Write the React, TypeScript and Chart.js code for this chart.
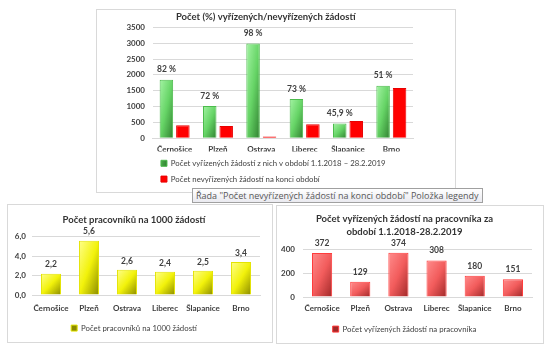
import React, { useEffect, useRef } from "react";
import { Chart, registerables } from "chart.js";
Chart.register(...registerables);

const categories = ["Černošice", "Plzeň", "Ostrava", "Liberec", "Šlapanice", "Brno"];

const topTitle = "Počet (%) vyřízených/nevyřízených žádostí";
const vyrizeneLabel = "Počet vyřízených žádostí z nich v období 1.1.2018 – 28.2.2019";
const nevyrizeneLabel = "Počet nevyřízených žádostí na konci období";
const vyrizene = [1850, 1020, 2990, 1240, 465, 1660];
const nevyrizene = [410, 390, 60, 440, 545, 1590];
const percentLabels = ["82 %", "72 %", "98 %", "73 %", "45,9 %", "51 %"];
const topTicks = [0, 500, 1000, 1500, 2000, 2500, 3000, 3500];

const leftTitle = "Počet pracovníků na 1000 žádostí";
const pracovnici = [2.2, 5.6, 2.6, 2.4, 2.5, 3.4];
const leftTicks = [0, 2, 4, 6];

const rightTitle = ["Počet vyřízených žádostí na pracovníka za", "období 1.1.2018-28.2.2019"];
const rightLabel = "Počet vyřízených žádostí na pracovníka";
const naPracovnika = [372, 129, 374, 308, 180, 151];
const rightTicks = [0, 200, 400];

const tooltipText = 'Řada "Počet nevyřízených žádostí na konci období" Položka legendy';

const FONT = "Lato, 'Open Sans', sans-serif";
const czNum = (v: number, d: number) => v.toFixed(d).replace(".", ",");

type Stop = [number, string];
const greenStops: Stop[] = [[0, "#a4f4a4"], [0.5, "#66d466"], [1, "#2f802f"]];
const yellowStops: Stop[] = [[0, "#ffff8c"], [0.5, "#f2f20a"], [1, "#8a8a00"]];
const redStops: Stop[] = [[0, "#ff8c8c"], [0.5, "#f25c5c"], [1, "#a02828"]];

function diagGradient(stops: Stop[], nDatasets: number, catPct: number, barPct: number) {
  return (c: any) => {
    const chart = c.chart;
    const xs = chart.scales && chart.scales.x;
    const ys = chart.scales && chart.scales.y;
    if (!xs || !ys || !chart.chartArea || c.type !== "data") return stops[1][1];
    const n = chart.data.labels.length;
    const cw = (xs.right - xs.left) / n;
    const cx = xs.getPixelForValue(c.dataIndex);
    const slot = (cw * catPct) / nDatasets;
    const center = cx - (cw * catPct) / 2 + slot * (c.datasetIndex + 0.5);
    const w = slot * barPct;
    const left = center - w / 2;
    const top = ys.getPixelForValue(c.raw as number);
    const base = ys.getPixelForValue(0);
    const h = Math.max(1, base - top);
    const k = (2 * w * h) / (h * h + w * w);
    const g = chart.ctx.createLinearGradient(left, top, left + k * h, top + k * w);
    stops.forEach(([o, col]) => g.addColorStop(o, col));
    return g;
  };
}

const valueLabelPlugin = {
  id: "valueLabels",
  afterDatasetsDraw(chart: any, _args: any, opts: any) {
    const meta = chart.getDatasetMeta(opts.datasetIndex || 0);
    const ctx = chart.ctx;
    ctx.save();
    ctx.font = `bold ${opts.size || 8.5}px ${FONT}`;
    ctx.fillStyle = "#404040";
    ctx.textAlign = "center";
    ctx.textBaseline = "middle";
    meta.data.forEach((el: any, i: number) => {
      const p = el.getProps(["x", "y"], true);
      ctx.fillText(opts.labels[i], p.x, p.y - (opts.offset || 9));
    });
    ctx.restore();
  },
};

function yScale(max: number, ticks: number[], fmt: (v: number) => string, pad: number, width?: number) {
  const s: any = {
    min: 0,
    max,
    afterBuildTicks: (sc: any) => {
      sc.ticks = ticks.map((v) => ({ value: v }));
    },
    ticks: {
      padding: pad,
      z: 1,
      color: "#404040",
      font: { family: FONT, size: 8, weight: "bold" },
      callback: (v: any) => fmt(Number(v)),
    },
    grid: { color: "#d9d9d9", drawTicks: false },
    border: { display: false },
  };
  if (width) {
    s.afterFit = (sc: any) => {
      sc.width = width;
    };
  }
  return s;
}

function xScale(pad: number, height: number) {
  return {
    grid: { display: false, drawTicks: false },
    border: { display: true, color: "#d9d9d9" },
    afterFit: (s: any) => {
      s.height = height;
    },
    ticks: {
      color: "#404040",
      padding: pad,
      font: { family: FONT, size: 8, weight: "bold" },
      maxRotation: 0,
      autoSkip: false,
    },
  };
}

function titleOpts(text: any, top: number, bottom: number) {
  return {
    display: true,
    text,
    color: "#333333",
    font: { family: FONT, size: 9.5, weight: "bold", lineHeight: 1.3 },
    padding: { top, bottom },
  };
}

function legendOpts(align: string, fullSize: boolean, padding: number) {
  return {
    position: "bottom",
    align,
    fullSize,
    labels: {
      boxWidth: 6,
      boxHeight: 6,
      padding,
      color: "#404040",
      font: { family: FONT, size: 7.8 },
    },
  };
}

const topConfig: any = {
  type: "bar",
  data: {
    labels: categories,
    datasets: [
      {
        label: vyrizeneLabel,
        data: vyrizene,
        backgroundColor: diagGradient(greenStops, 2, 0.76, 0.82),
        borderColor: "#4cbb4c",
        borderWidth: 1,
        categoryPercentage: 0.76,
        barPercentage: 0.82,
      },
      {
        label: nevyrizeneLabel,
        data: nevyrizene,
        backgroundColor: "#ff0000",
        borderColor: "#e80000",
        borderWidth: 1,
        categoryPercentage: 0.76,
        barPercentage: 0.82,
      },
    ],
  },
  options: {
    responsive: false,
    animation: false,
    layout: { padding: { left: 21.4, right: 17, top: 0, bottom: 0 } },
    scales: {
      x: xScale(6.2, 13.1),
      y: yScale(3500, topTicks, (v) => String(v), 8),
    },
    plugins: {
      title: titleOpts(topTitle, 1, 4),
      legend: legendOpts("start", false, 8),
      tooltip: { enabled: false },
      valueLabels: { datasetIndex: 0, labels: percentLabels, offset: 10 },
    },
  },
  plugins: [valueLabelPlugin],
};

const leftConfig: any = {
  type: "bar",
  data: {
    labels: categories,
    datasets: [
      {
        label: leftTitle,
        data: pracovnici,
        backgroundColor: diagGradient(yellowStops, 1, 0.55, 0.96),
        borderColor: "#e4e400",
        borderWidth: 1,
        categoryPercentage: 0.55,
        barPercentage: 0.96,
      },
    ],
  },
  options: {
    responsive: false,
    animation: false,
    layout: { padding: { left: 0, right: 12, top: 0, bottom: 0 } },
    scales: {
      x: xScale(8.2, 21.1),
      y: yScale(6, leftTicks, (v) => czNum(v, 1), 6, 24),
    },
    plugins: {
      title: titleOpts(leftTitle, 9, 10.5),
      legend: legendOpts("center", true, 8),
      tooltip: { enabled: false },
      valueLabels: { datasetIndex: 0, labels: pracovnici.map((v) => czNum(v, 1)), offset: 9 },
    },
  },
  plugins: [valueLabelPlugin],
};

const rightConfig: any = {
  type: "bar",
  data: {
    labels: categories,
    datasets: [
      {
        label: rightLabel,
        data: naPracovnika,
        backgroundColor: diagGradient(redStops, 1, 0.55, 0.96),
        borderColor: "#ff3c3c",
        borderWidth: 1,
        categoryPercentage: 0.55,
        barPercentage: 0.96,
      },
    ],
  },
  options: {
    responsive: false,
    animation: false,
    layout: { padding: { left: 0, right: 11, top: 0, bottom: 0 } },
    scales: {
      x: xScale(6.2, 20.1),
      y: yScale(400, rightTicks, (v) => String(v), 8, 26),
    },
    plugins: {
      title: titleOpts(rightTitle, 7, 12),
      legend: legendOpts("center", true, 8),
      tooltip: { enabled: false },
      valueLabels: { datasetIndex: 0, labels: naPracovnika.map((v) => String(v)), offset: 10 },
    },
  },
  plugins: [valueLabelPlugin],
};

function ChartCanvas({ config, left, top, width, height }: any) {
  const ref = useRef<HTMLCanvasElement>(null);
  useEffect(() => {
    let alive = true;
    const chart: any = new Chart(ref.current as HTMLCanvasElement, config);
    const redraw = () => {
      if (alive) chart.update("none");
    };
    const fonts: any = (document as any).fonts;
    if (fonts && fonts.load) {
      Promise.all([
        fonts.load(`bold 8px Lato`),
        fonts.load(`7.8px Lato`),
        fonts.load(`bold 9.5px Lato`),
      ])
        .then(redraw)
        .catch(redraw);
      if (fonts.ready) fonts.ready.then(redraw);
    }
    const raf = requestAnimationFrame(redraw);
    const t = setTimeout(redraw, 50);
    return () => {
      alive = false;
      cancelAnimationFrame(raf);
      clearTimeout(t);
      chart.destroy();
    };
  }, [config]);
  return (
    <canvas
      ref={ref}
      width={width}
      height={height}
      style={{ position: "absolute", left, top, width, height }}
    />
  );
}

const boxStyle = (left: number, top: number, width: number, height: number): React.CSSProperties => ({
  position: "absolute",
  left,
  top,
  width,
  height,
  boxSizing: "border-box",
  border: "1px solid #d9d9d9",
  background: "#ffffff",
});

export default function App() {
  return (
    <div style={{ position: "absolute", left: 0, top: 0, width: 555, height: 352, background: "#ffffff", overflow: "hidden" }}>
      <div style={boxStyle(96, 9, 360, 184)} />
      <div style={boxStyle(7, 204, 266, 139)} />
      <div style={boxStyle(276, 205, 268, 139)} />
      <ChartCanvas config={topConfig} left={97} top={10} width={333} height={183} />
      <ChartCanvas config={leftConfig} left={8} top={205} width={264} height={137} />
      <ChartCanvas config={rightConfig} left={277} top={206} width={266} height={137} />
      <div
        style={{
          position: "absolute",
          left: 192,
          top: 188,
          height: 13,
          padding: "0 3px",
          border: "1px solid #a0a0a0",
          background: "linear-gradient(#ffffff, #eaeaf0)",
          color: "#575757",
          font: `9px 'Open Sans', 'Noto Sans', sans-serif`,
          lineHeight: "13px",
          whiteSpace: "nowrap",
        }}
      >
        {tooltipText}
      </div>
    </div>
  );
}
